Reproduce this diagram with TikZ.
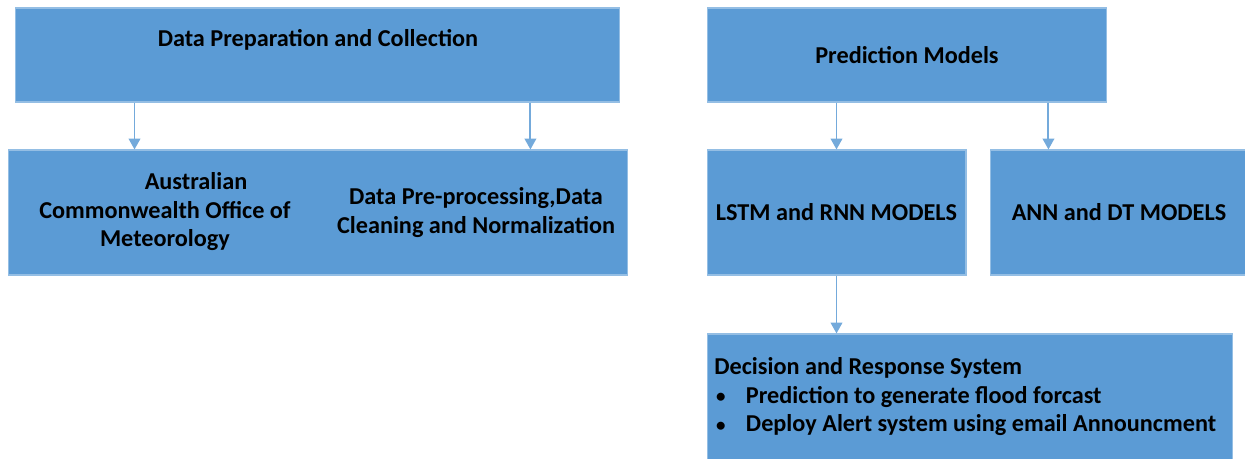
\documentclass[tikz,border=0pt]{standalone}
\usepackage{fontspec}
\setmainfont{Carlito}
\usepackage{xcolor}
\usepackage{graphicx}
\usetikzlibrary{arrows.meta}
\definecolor{boxblue}{HTML}{5B9BD5}

\begin{document}
\begin{tikzpicture}[x=0.02cm, y=-0.02cm]
      \tikzstyle{box} = [draw=boxblue!65!white, fill=boxblue, line width=0.6pt, inner sep=0pt]
      \tikzstyle{txt} = [font=\fontsize{13.8}{16.2}\selectfont\bfseries, align=center, inner sep=0pt]
      \tikzstyle{arr} = [draw=boxblue!85!white, line width=1.1pt, -{Triangle[width=6.6pt,length=6.2pt]}]
      \useasboundingbox (0,0) rectangle (1245,459);
      \clip (0,0) rectangle (1245,459);

      % left side
      \node[box, minimum width=12.1cm, minimum height=1.88cm] (prep) at (317.5,55) {};
      \node[box, minimum width=12.4cm, minimum height=2.5cm] (src) at (318,212.5) {};
      \node[txt] (prept) at (318,40) {Data Preparation and Collection};
      \node[txt] (bom) at (165,212) {\hspace*{1.24cm}Australian\\Commonwealth Office of\\Meteorology};
      \node[txt] (clean) at (476,212.5) {Data Pre-processing,Data\\Cleaning and Normalization};

      % right side
      \node[box, minimum width=8cm, minimum height=1.88cm] (pred) at (907,55) {\fontsize{13.8}{16.2}\selectfont\bfseries Prediction Models};
      \node[box, minimum width=5.18cm, minimum height=2.5cm] (lstm) at (836.5,212.5) {\fontsize{13.8}{16.2}\selectfont\bfseries LSTM and RNN MODELS};
      \node[box, minimum width=5.2cm, minimum height=2.5cm] (ann) at (1120,212.5) {};
      \node[txt] (annt) at (1119,212) {ANN and DT MODELS};
      \node[box, minimum width=10.52cm, minimum height=2.72cm] (dec) at (970,402) {};
      \node[txt, align=left, anchor=west] (dect) at (714,397) {Decision and Response System\\
        \makebox[18pt][l]{\hspace{1pt}\raisebox{0.4pt}{\scalebox{0.78}{\textbullet}}}Prediction to generate flood forcast\\
        \makebox[18pt][l]{\hspace{1pt}\raisebox{0.4pt}{\scalebox{0.78}{\textbullet}}}Deploy Alert system using email Announcment};

      % arrows
      \draw[arr] ([xshift=2.4cm]prep.south west) -- ([xshift=2.4cm]prep.south west |- src.north);
      \draw[arr] ([xshift=10.32cm]prep.south west) -- ([xshift=10.32cm]prep.south west |- src.north);
      \draw[arr] (pred.south -| lstm.north) -- (lstm.north);
      \draw[arr] ([xshift=6.84cm]pred.south west) -- ([xshift=6.84cm]pred.south west |- ann.north);
      \draw[arr] (lstm.south) -- (dec.north -| lstm.south);
\end{tikzpicture}
\end{document}
